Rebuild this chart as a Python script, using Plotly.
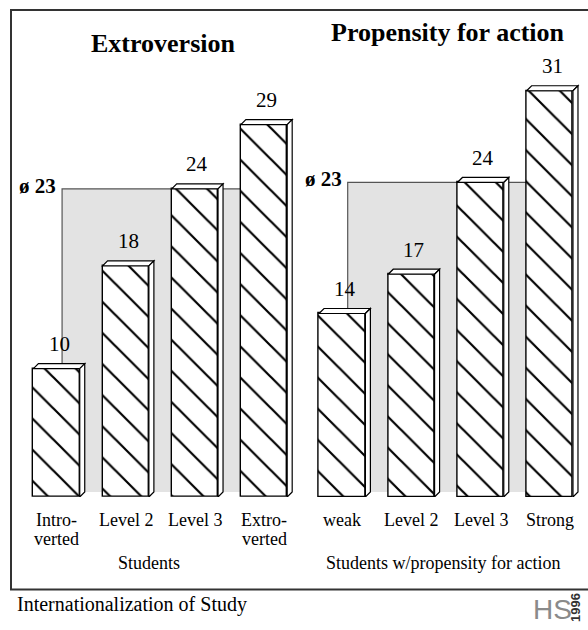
import plotly.graph_objects as go

W, H = 588, 630

# ---------------- data ----------------
left_title = "Extroversion"
right_title = "Propensity for action"
left_categories = [["Intro-", "verted"], ["Level 2"], ["Level 3"], ["Extro-", "verted"]]
right_categories = [["weak"], ["Level 2"], ["Level 3"], ["Strong"]]
left_values = [10, 18, 24, 29]
right_values = [14, 17, 24, 31]
avg_labels = ["ø 23", "ø 23"]
avg_band_levels = [24, 24]          # height of the grey reference block as drawn
axis_titles = ["Students", "Students w/propensity for action"]
footer_text = "Internationalization of Study"
logo_letters = "HS"
logo_year = "1996"

# ---------------- layout helpers ----------------
def fx(p):
    return p / W


def fy(p):
    return 1 - p / H


SERIF = "Liberation Serif, Times New Roman, serif"
BASE_PX = 497            # pixel row of the bars' baseline
YMAX = 36
BAR_W = 0.67
DEPTH = 5                # 3-D depth in px
panels = [
    dict(xa="x", ya="y", xdom=(22.0, 298.6), ytop=34.8, cats=left_categories,
         vals=left_values, title=left_title, title_cx=162.5, title_base=53,
         axis_title_cx=149),
    dict(xa="x2", ya="y2", xdom=(307.6, 584.4), ytop=25.2, cats=right_categories,
         vals=right_values, title=right_title, title_cx=448, title_base=42,
         axis_title_cx=443),
]

fig = go.Figure()
shapes = []
annotations = []


def ann_bottom_px(baseline, size):
    # annotation anchored at bottom: bottom of text box = baseline + descent + pad
    return fy(baseline + 0.216 * size + 1)


for k, p in enumerate(panels):
    n = len(p["vals"])
    xpu = (p["xdom"][1] - p["xdom"][0]) / n          # px per category unit
    ypu = (BASE_PX - p["ytop"]) / YMAX                # px per value unit
    dx = DEPTH / xpu
    dy = DEPTH / ypu
    xref, yref = p["xa"], p["ya"]

    # grey average block (behind the bars)
    lvl = avg_band_levels[k]
    bx0 = 5.5 / xpu
    bx1 = n - 1
    shapes.append(dict(type="rect", xref=xref, yref=yref, x0=bx0, x1=bx1, y0=dy, y1=lvl,
                       fillcolor="#e3e3e3", line=dict(width=0), layer="below"))
    shapes.append(dict(type="path", xref=xref, yref=yref,
                       path=f"M{bx0},{dy} L{bx0},{lvl} L{bx1},{lvl}",
                       line=dict(color="#555555", width=1.2), layer="below"))
    annotations.append(dict(xref=xref, yref=yref, x=bx0, y=lvl, text=f"<b>{avg_labels[k]}</b>",
                            showarrow=False, xanchor="right", yanchor="middle", xshift=-4, yshift=3,
                            font=dict(family=SERIF, size=21, color="black")))

    xs = list(range(n))
    fig.add_trace(go.Bar(
        x=xs, y=p["vals"], width=BAR_W, xaxis=xref, yaxis=yref,
        marker=dict(color="white", line=dict(color="black", width=1.4),
                    pattern=dict(shape="\\", size=22, solidity=0.1, fgcolor="black",
                                 fgopacity=1, bgcolor="white", fillmode="replace")),
        showlegend=False, hoverinfo="skip"))

    for i, v in enumerate(p["vals"]):
        L = i - BAR_W / 2
        R = i + BAR_W / 2
        # top face
        shapes.append(dict(type="path", xref=xref, yref=yref,
                           path=f"M{L},{v} L{L+dx},{v+dy} L{R+dx},{v+dy} L{R},{v} Z",
                           fillcolor="white", line=dict(color="black", width=1.2), layer="above"))
        # side face
        shapes.append(dict(type="path", xref=xref, yref=yref,
                           path=f"M{R},{v} L{R+dx},{v+dy} L{R+dx},{dy} L{R},0 Z",
                           fillcolor="white", line=dict(color="black", width=1.2), layer="above"))
        # value label
        annotations.append(dict(xref=xref, yref=yref, x=i, y=v, text=str(v), showarrow=False,
                                xanchor="center", yanchor="bottom", xshift=2.5, yshift=10.5,
                                font=dict(family=SERIF, size=21, color="black")))
        # category label lines
        for j, line in enumerate(p["cats"][i]):
            annotations.append(dict(xref=xref, yref="paper", x=i,
                                    y=ann_bottom_px(527 + 19 * j, 18), text=line,
                                    showarrow=False, xanchor="center", yanchor="bottom",
                                    font=dict(family=SERIF, size=18, color="black")))

    # panel title
    annotations.append(dict(xref="paper", yref="paper", x=fx(p["title_cx"]),
                            y=ann_bottom_px(p["title_base"], 26), text=f"<b>{p['title']}</b>",
                            showarrow=False, xanchor="center", yanchor="bottom",
                            font=dict(family=SERIF, size=26, color="black")))
    # axis title
    annotations.append(dict(xref="paper", yref="paper", x=fx(p["axis_title_cx"]),
                            y=ann_bottom_px(570, 18), text=axis_titles[k],
                            showarrow=False, xanchor="center", yanchor="bottom",
                            font=dict(family=SERIF, size=18, color="black")))

# footer
annotations.append(dict(xref="paper", yref="paper", x=fx(15), y=ann_bottom_px(613, 20),
                        text=footer_text, showarrow=False, xanchor="left", yanchor="bottom",
                        font=dict(family=SERIF, size=20, color="black")))
# logo
annotations.append(dict(xref="paper", yref="paper", x=fx(552), y=fy(609),
                        text=logo_letters, showarrow=False, xanchor="center", yanchor="middle",
                        font=dict(family="Liberation Sans Narrow, Liberation Sans, sans-serif",
                                  size=28, color="#8a8a8a")))
annotations.append(dict(xref="paper", yref="paper", x=fx(575), y=fy(608),
                        text=f"<b>{logo_year}</b>", showarrow=False, textangle=-90,
                        xanchor="center", yanchor="middle",
                        font=dict(family="Liberation Sans, Arial, sans-serif", size=13,
                                  color="#333333")))

# frame
shapes.append(dict(type="rect", xref="paper", yref="paper", x0=fx(11), x1=fx(600),
                   y0=fy(589.5), y1=fy(10), line=dict(color="#333333", width=2),
                   fillcolor="rgba(0,0,0,0)", layer="above"))

axis_common = dict(showgrid=False, zeroline=False, showticklabels=False, ticks="",
                   showline=False, fixedrange=True)
fig.update_layout(
    width=W, height=H, margin=dict(l=0, r=0, t=0, b=0),
    paper_bgcolor="white", plot_bgcolor="rgba(0,0,0,0)",
    xaxis=dict(domain=[fx(panels[0]["xdom"][0]), fx(panels[0]["xdom"][1])],
               range=[-0.5, 3.5], anchor="y", **axis_common),
    yaxis=dict(domain=[fy(BASE_PX), fy(panels[0]["ytop"])], range=[0, YMAX],
               anchor="x", **axis_common),
    xaxis2=dict(domain=[fx(panels[1]["xdom"][0]), fx(panels[1]["xdom"][1])],
                range=[-0.5, 3.5], anchor="y2", **axis_common),
    yaxis2=dict(domain=[fy(BASE_PX), fy(panels[1]["ytop"])], range=[0, YMAX],
                anchor="x2", **axis_common),
    shapes=shapes, annotations=annotations, bargap=0,
)

fig.write_html("out.html")
